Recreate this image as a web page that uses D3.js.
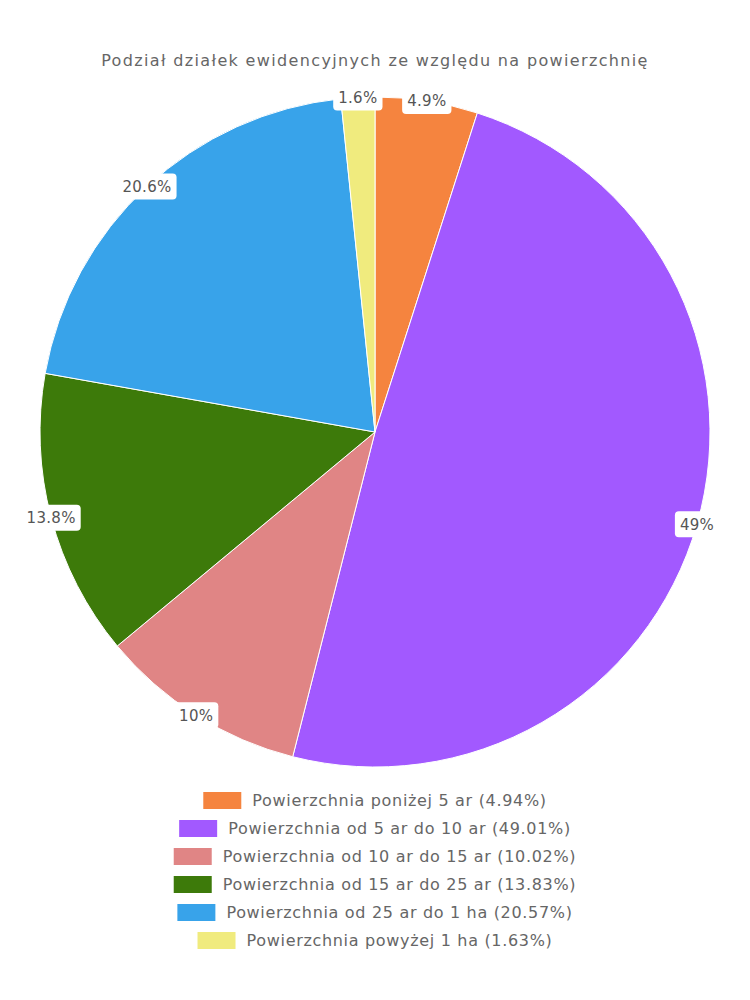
<!DOCTYPE html>
<html><head><meta charset="utf-8">
<script src="https://cdn.jsdelivr.net/npm/d3@7"></script>
<style>body{margin:0;background:#fff;}svg{display:block;}</style>
</head><body>
<svg id="c" width="750" height="1000"></svg>
<script>
const title = "Podział działek ewidencyjnych ze względu na powierzchnię";
const categories = ["Powierzchnia poniżej 5 ar","Powierzchnia od 5 ar do 10 ar","Powierzchnia od 10 ar do 15 ar","Powierzchnia od 15 ar do 25 ar","Powierzchnia od 25 ar do 1 ha","Powierzchnia powyżej 1 ha"];
const values = [4.94, 49.01, 10.02, 13.83, 20.57, 1.63];
const colors = ["#F5843F","#A259FF","#E08585","#3D7A0A","#38A3EA","#F0EB7E"];

const font = "'DejaVu Sans', sans-serif";
const svg = d3.select("#c");
const cx = 375, cy = 432, r = 335;

svg.append("text").attr("x",cx).attr("y",66).attr("text-anchor","middle")
  .attr("font-family",font).attr("font-size",16).attr("letter-spacing",1.35).attr("fill","#666").text(title);

const data = categories.map((c,i)=>({c, v:values[i], col:colors[i]}));
const pie = d3.pie().value(d=>d.v).sort(null);
const arcs = pie(data);
const arc = d3.arc().innerRadius(0).outerRadius(r);
const g = svg.append("g").attr("transform",`translate(${cx},${cy})`);
g.selectAll("path").data(arcs).join("path").attr("d",arc)
  .attr("fill",d=>d.data.col).attr("stroke","#fff").attr("stroke-width",1);

const labelArc = d3.arc().innerRadius(r).outerRadius(r);
const fmt = v => String(+v.toFixed(1)) + "%";
const lg = g.selectAll("g.lbl").data(arcs).join("g").attr("class","lbl")
  .attr("transform",d=>`translate(${labelArc.centroid(d)})`);
lg.append("text").attr("text-anchor","middle").attr("dy","0.36em")
  .attr("font-family",font).attr("font-size",15).attr("letter-spacing",0.3).attr("fill","#555")
  .text(d=>fmt(d.data.v));
lg.each(function(){
  const t = d3.select(this).select("text");
  const b = t.node().getBBox();
  d3.select(this).insert("rect","text").attr("x",b.x-5).attr("y",-13).attr("width",b.width+10).attr("height",26)
    .attr("rx",4).attr("fill","#fff");
});

const leg = svg.append("g");
data.forEach((d,i)=>{
  const y = 800 + i*28;
  const row = leg.append("g");
  const t = row.append("text").attr("y",y).attr("dy","0.36em").attr("font-family",font).attr("font-size",16)
    .attr("letter-spacing",0.68).attr("fill","#666").text(`${d.c} (${d.v}%)`);
  const w = t.node().getComputedTextLength();
  const total = 38 + 11 + w;
  const x0 = cx - total/2;
  row.insert("rect","text").attr("x",x0).attr("y",y-8).attr("width",38).attr("height",17).attr("fill",d.col);
  t.attr("x",x0+49);
});
</script>
</body></html>
